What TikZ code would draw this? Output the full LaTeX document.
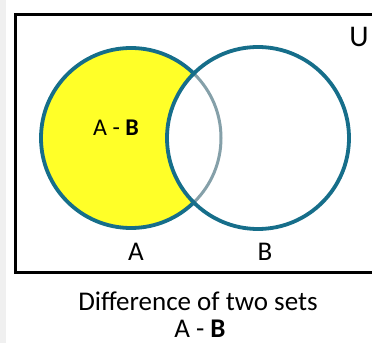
\documentclass[tikz,border=0pt]{standalone}
\usepackage{fontspec}
\setmainfont{Carlito}
\definecolor{setteal}{RGB}{22,110,138}
\definecolor{setyellow}{RGB}{255,255,40}
\usetikzlibrary{positioning}

\begin{document}
\begin{tikzpicture}[x=1pt, y=1pt,
    setcircle/.style={circle, line width=3.8pt, draw=setteal, minimum size=180pt, inner sep=0pt},
    setlabel/.style={font=\fontsize{27}{31}\selectfont}]
  \useasboundingbox (0,0) rectangle (372,343);
  \fill[white] (0,0) rectangle (372,343);
  \fill[black!6] (0,0) rectangle (6,343);

  % Universal set
  \node[draw, line width=2.6pt, minimum width=380pt, minimum height=258pt, anchor=north west, inner sep=0pt] (univ) at (14,330) {};
  \node[font=\fontsize{30}{34}\selectfont] (lblU) at (359,306) {U};

  % The two sets
  \node[setcircle, fill=setyellow] (setA) at (131,205) {};
  \node[setcircle, draw=none, fill=white, minimum size=182pt] (lensB) at (258,205) {};
  \begin{scope}
    \clip (lensB.center) circle (91);
    \node[setcircle, draw=setteal!45!gray!70, line width=3pt] (arcA) at (setA.center) {};
  \end{scope}
  \node[setcircle, minimum size=182pt] (setB) at (258,205) {};

  \node[font=\fontsize{24}{28}\selectfont] (diffAB) at (116,215) {A - \textbf{B}};
  \node[setlabel] (lblA) at (136,91) {A};
  \node[setlabel] (lblB) at (265,91) {B};

  % Caption
  \node[setlabel] (title) at (198,42) {Difference of two sets};
  \node[setlabel, inner sep=0pt, anchor=base] (titleAB) at (200,6) {A - \textbf{B}};
\end{tikzpicture}
\end{document}
